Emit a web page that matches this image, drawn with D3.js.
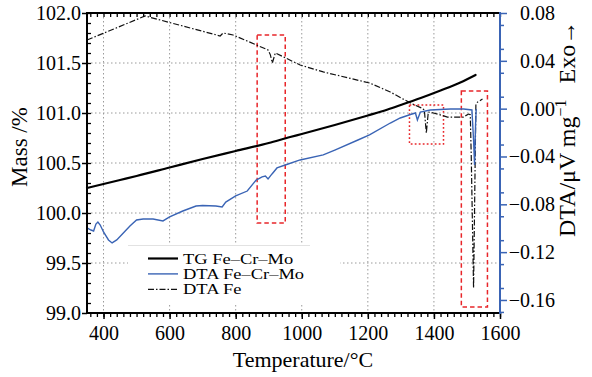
<!DOCTYPE html>
<html>
<head>
<meta charset="utf-8">
<script src="https://cdn.jsdelivr.net/npm/d3@7"></script>
<style>
  body { margin: 0; background: #fff; }
  svg { display: block; font-family: "Liberation Serif", "Times New Roman", serif; }
</style>
</head>
<body>
<svg id="chart" width="592" height="377"></svg>
<script>
// TG curve of the Fe-Cr-Mo sample (left axis, mass %)
const tgTemp = [350, 450, 500, 600, 700, 800, 900, 965, 1000, 1100, 1200, 1260, 1308, 1360, 1420, 1480, 1526];
const tgMass = [100.25, 100.33, 100.37, 100.455, 100.54, 100.62, 100.70, 100.76, 100.79, 100.88, 100.975, 101.035, 101.09, 101.15, 101.225, 101.305, 101.38];

// DTA of the Fe-Cr-Mo sample (right axis)
const dtaAlloyTemp = [350, 362, 370, 377, 383, 390, 400, 415, 426, 440, 460, 480, 500, 520, 550, 580, 600, 640, 680, 700, 740, 759, 770, 800, 835, 862, 880, 890, 898, 910, 925, 950, 995, 1065, 1100, 1170, 1205, 1268, 1298, 1329, 1344, 1350, 1359, 1389, 1450, 1490, 1515, 1520, 1523, 1526, 1528];
const dtaAlloyVal = [-0.0998, -0.1015, -0.1023, -0.0965, -0.0948, -0.0973, -0.1031, -0.1098, -0.1123, -0.1098, -0.104, -0.0981, -0.0931, -0.0923, -0.0923, -0.0939, -0.0906, -0.0856, -0.0814, -0.081, -0.0814, -0.0822, -0.0781, -0.073, -0.0689, -0.0597, -0.0571, -0.0563, -0.0588, -0.0546, -0.0496, -0.0471, -0.0429, -0.0387, -0.0346, -0.0262, -0.022, -0.012, -0.0078, -0.0049, -0.0036, -0.0095, -0.0028, -0.0011, -0.0003, -0.0003, -0.0011, -0.0262, -0.0471, -0.0137, -0.0003];

// DTA of pure Fe (right axis)
const dtaFeTemp = [350, 526, 753, 762, 792, 898, 905, 911, 920, 995, 1065, 1205, 1268, 1329, 1362, 1371, 1377, 1383, 1399, 1441, 1489, 1505, 1510, 1513, 1520, 1525, 1527, 1532, 1540, 1547];
const dtaFeVal = [0.0574, 0.0775, 0.0608, 0.0633, 0.0616, 0.0491, 0.045, 0.0382, 0.0466, 0.0365, 0.0307, 0.0215, 0.0139, 0.0047, 0.0006, -0.0011, -0.0204, -0.0028, -0.0036, -0.007, -0.007, -0.0045, -0.005, -0.04, -0.15, -0.04, 0.003, 0.0055, 0.0068, 0.008];

// highlighted regions: [tempStart, tempEnd, massTop, massBottom]
const boxDashed = [[865, 950, 101.78, 99.9], [1483, 1562, 101.22, 99.06]];
const boxDotted = [[1326, 1429, 101.08, 100.69]];

const legendLabels = ['TG Fe\u2013Cr\u2013Mo', 'DTA Fe\u2013Cr\u2013Mo', 'DTA Fe'];

const xTicks = [400, 600, 800, 1000, 1200, 1400, 1600];
const massTicks = [99.0, 99.5, 100.0, 100.5, 101.0, 101.5, 102.0];
const dtaTicks = [-0.16, -0.12, -0.08, -0.04, 0.00, 0.04, 0.08];

const blue = '#3a64b5';
const red = '#e8262a';

const margin = { left: 87, right: 92, top: 13, bottom: 64 };
const width = 592, height = 377;
const svg = d3.select('#chart');

const x = d3.scaleLinear().domain([350, 1600]).range([margin.left, width - margin.right]);
const yMass = d3.scaleLinear().domain([99.0, 102.0]).range([height - margin.bottom, margin.top]);
const yDta = d3.scaleLinear().domain([-0.1709, 0.08]).range([height - margin.bottom, margin.top]);

const x0 = x.range()[0], x1 = x.range()[1];
const yBot = yMass.range()[0], yTop = yMass.range()[1];

// grid
const grid = svg.append('g').attr('stroke', '#9a9a9a').attr('stroke-width', 1).attr('stroke-dasharray', '1.5,2.5');
grid.selectAll('line.gx').data(xTicks.filter(d => d < 1600)).join('line')
  .attr('class', 'gx')
  .attr('x1', d => x(d)).attr('x2', d => x(d)).attr('y1', yTop).attr('y2', yBot);
grid.selectAll('line.gy').data(massTicks.filter(d => d > 99 && d < 102)).join('line')
  .attr('class', 'gy')
  .attr('x1', x0).attr('x2', x1).attr('y1', d => yMass(d)).attr('y2', d => yMass(d));

// legend background hides the grid
svg.append('rect').attr('x', 128).attr('y', 245).attr('width', 212).attr('height', 60).attr('fill', '#fff');
svg.append('line').attr('x1', 128).attr('x2', 310).attr('y1', 245.5).attr('y2', 245.5).attr('stroke', '#e2e2e2');

// red annotation boxes
const drawBoxes = (data, dash) => {
  svg.append('g').selectAll('rect').data(data).join('rect')
    .attr('x', d => x(d[0])).attr('y', d => yMass(d[2]))
    .attr('width', d => x(d[1]) - x(d[0])).attr('height', d => yMass(d[3]) - yMass(d[2]))
    .attr('fill', 'none').attr('stroke', red).attr('stroke-width', 1.5).attr('stroke-dasharray', dash);
};
drawBoxes(boxDashed, '4.5,3');
drawBoxes(boxDotted, '1.8,2.2');

// series
const tgLine = d3.line().x(d => x(d[0])).y(d => yMass(d[1])).curve(d3.curveMonotoneX);
const dtaLine = d3.line().x(d => x(d[0])).y(d => yDta(d[1]));

svg.append('path').datum(d3.zip(dtaFeTemp, dtaFeVal)).attr('d', dtaLine)
  .attr('fill', 'none').attr('stroke', '#111').attr('stroke-width', 1.2).attr('stroke-dasharray', '6,2,1.5,2');
svg.append('path').datum(d3.zip(dtaAlloyTemp, dtaAlloyVal)).attr('d', dtaLine)
  .attr('fill', 'none').attr('stroke', blue).attr('stroke-width', 1.4);
svg.append('path').datum(d3.zip(tgTemp, tgMass)).attr('d', tgLine)
  .attr('fill', 'none').attr('stroke', '#000').attr('stroke-width', 2.2).attr('stroke-linecap', 'round');

// axes
const axisFont = g => g.selectAll('text').attr('font-size', 20).attr('fill', '#000')
  .attr('font-family', '"Liberation Serif", serif');

// bottom: minor ticks every 20, outward
const bottomMinor = svg.append('g').attr('transform', `translate(0,${yBot})`)
  .call(d3.axisBottom(x).tickValues(d3.range(360, 1601, 20)).tickSize(4).tickFormat(''));
bottomMinor.select('.domain').remove();
bottomMinor.selectAll('line').attr('stroke', '#000').attr('stroke-width', 1.3);
const bottomAxis = svg.append('g').attr('transform', `translate(0,${yBot})`)
  .call(d3.axisBottom(x).tickValues(xTicks).tickSize(6).tickPadding(7).tickFormat(d3.format('d')));
bottomAxis.select('.domain').remove();
bottomAxis.selectAll('line').attr('stroke', '#000').attr('stroke-width', 1.5);
bottomAxis.call(axisFont);

// top: minor ticks inward
const topAxis = svg.append('g').attr('transform', `translate(0,${yTop})`)
  .call(d3.axisBottom(x).tickValues(d3.range(360, 1601, 20)).tickSize(4).tickFormat(''));
topAxis.select('.domain').remove();
topAxis.selectAll('line').attr('stroke', '#000').attr('stroke-width', 1.3);

// left: majors outward, minors inward
const leftMinor = svg.append('g').attr('transform', `translate(${x0},0)`)
  .call(d3.axisRight(yMass).tickValues(d3.range(99.1, 102, 0.1)).tickSize(4).tickFormat(''));
leftMinor.select('.domain').remove();
leftMinor.selectAll('line').attr('stroke', '#000').attr('stroke-width', 1.3);
const leftAxis = svg.append('g').attr('transform', `translate(${x0},0)`)
  .call(d3.axisLeft(yMass).tickValues(massTicks).tickSize(5).tickPadding(1).tickFormat(d3.format('.1f')));
leftAxis.select('.domain').remove();
leftAxis.selectAll('line').attr('stroke', '#000').attr('stroke-width', 1.5);
leftAxis.call(axisFont);

// right (blue): outward ticks
const rightMinor = svg.append('g').attr('transform', `translate(${x1},0)`)
  .call(d3.axisRight(yDta).tickValues(d3.range(-0.17, 0.081, 0.02)).tickSize(4).tickFormat(''));
rightMinor.select('.domain').remove();
rightMinor.selectAll('line').attr('stroke', blue).attr('stroke-width', 1.5);
const rightAxis = svg.append('g').attr('transform', `translate(${x1},0)`)
  .call(d3.axisRight(yDta).tickValues(dtaTicks).tickSize(7).tickPadding(48).tickFormat(d3.format('.2f')));
rightAxis.select('.domain').remove();
rightAxis.selectAll('line').attr('stroke', blue).attr('stroke-width', 1.5);
rightAxis.call(axisFont);
rightAxis.selectAll('text').attr('text-anchor', 'end');

// frame lines
svg.append('line').attr('x1', x0).attr('x2', x1).attr('y1', yBot).attr('y2', yBot).attr('stroke', '#000').attr('stroke-width', 2);
svg.append('line').attr('x1', x0).attr('x2', x1).attr('y1', yTop).attr('y2', yTop).attr('stroke', '#000').attr('stroke-width', 2);
svg.append('line').attr('x1', x0).attr('x2', x0).attr('y1', yTop - 1).attr('y2', yBot + 1).attr('stroke', '#000').attr('stroke-width', 2);
svg.append('line').attr('x1', x1).attr('x2', x1).attr('y1', yTop - 1).attr('y2', yBot + 1).attr('stroke', blue).attr('stroke-width', 2);

// titles
svg.append('text').attr('x', 303).attr('y', 367).attr('text-anchor', 'middle')
  .attr('font-size', 22).text('Temperature/\u00b0C');
svg.append('text').attr('transform', 'translate(27,147) rotate(-90)').attr('text-anchor', 'middle')
  .attr('font-size', 23).text('Mass /%');

const rt = svg.append('text').attr('transform', 'translate(575,237) rotate(-90)').attr('font-size', 24);
rt.append('tspan').text('DTA/\u03bcV mg');
rt.append('tspan').attr('dy', -9).attr('font-size', 16).text('\u22121');
rt.append('tspan').attr('dy', 9).attr('dx', 16).text('Exo\u2192');

// legend
const legendColors = ['#000', blue, '#111'];
const legendWidths = [2.2, 1.4, 1.2];
const legendDash = [null, null, '6,2,1.5,2'];
const leg = svg.append('g').selectAll('g').data(legendLabels).join('g')
  .attr('transform', (d, i) => `translate(148,${258.5 + i * 15.4})`);
leg.append('line').attr('x1', 0).attr('x2', 30)
  .attr('stroke', (d, i) => legendColors[i]).attr('stroke-width', (d, i) => legendWidths[i])
  .attr('stroke-dasharray', (d, i) => legendDash[i]);
leg.append('text').attr('transform', 'translate(35,5) scale(1.32,1)').attr('font-size', 14).text(d => d);
</script>
</body>
</html>
